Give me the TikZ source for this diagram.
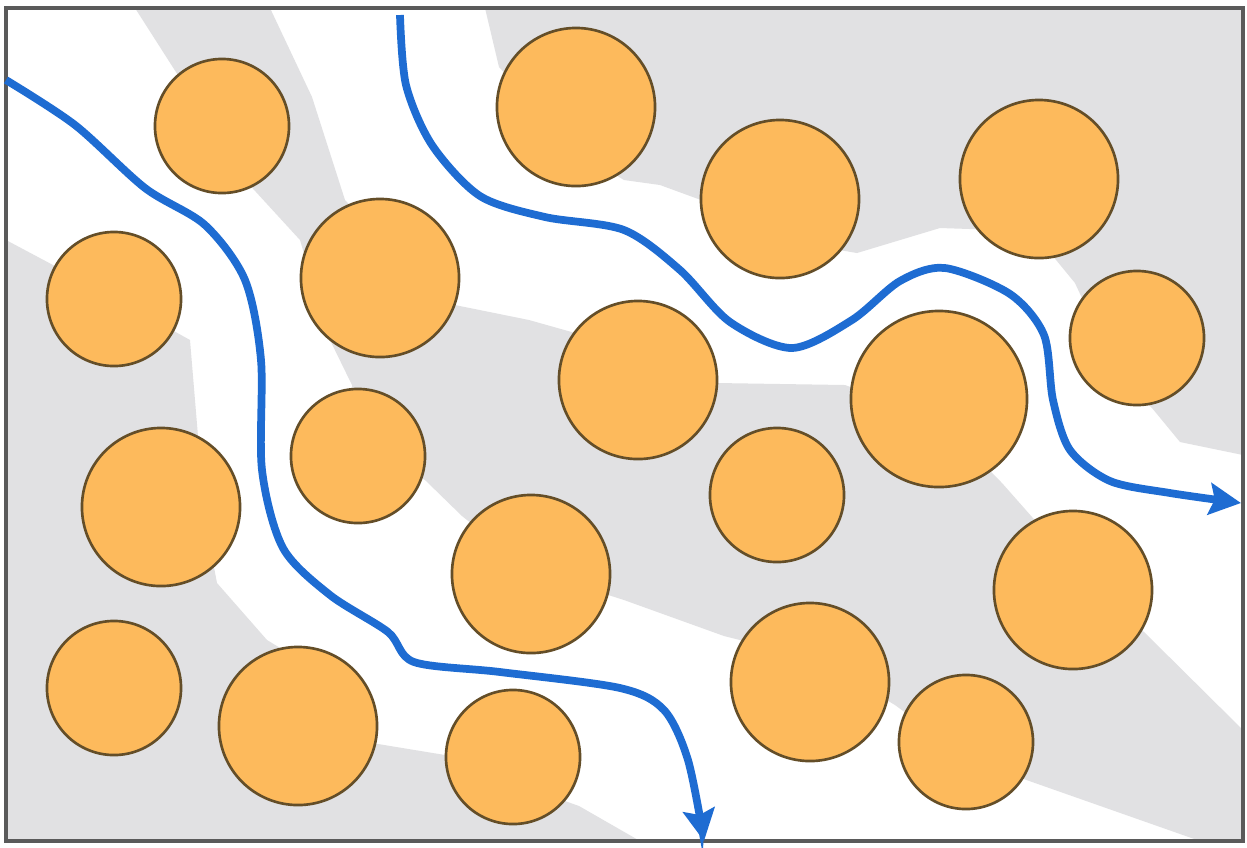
\documentclass[tikz,border=0pt]{standalone}
\usepackage{xcolor}
\usepackage{tikz}
\usetikzlibrary{arrows.meta}
\definecolor{grainfill}{RGB}{253,186,92}
\definecolor{grainline}{RGB}{100,78,40}
\definecolor{flowblue}{RGB}{30,108,210}
\definecolor{matrixgray}{RGB}{225,225,227}
\definecolor{framegray}{RGB}{90,90,90}

\begin{document}
\begin{tikzpicture}[
  x=0.01cm, y=-0.01cm,
  grain/.style={circle, draw=grainline, line width=0.75pt,
                fill=grainfill, inner sep=0pt},
  grainS/.style={grain, minimum size=1.34cm},
  grainM/.style={grain, minimum size=1.58cm},
  grainL/.style={grain, minimum size=1.76cm},
  flow/.style={draw=flowblue, line width=2.2pt,
               -{Stealth[length=9pt, width=9pt, inset=1.5pt]}},
  solid matrix/.style={fill=matrixgray, draw=none}
]
\useasboundingbox (0,0) rectangle (1247,847);
\fill[white] (0,0) rectangle (1247,847);

% gray matrix, the white is the open pore space
\begin{scope}
\clip (6,8) rectangle (1243,841);
\path[solid matrix] (6,240) -- (100,290) -- (190,340) -- (197,424)
  -- (205,520) -- (217,583) -- (267,640) -- (300,660) -- (372,743)
  -- (445,755) -- (520,785) -- (579,806) -- (640,841) -- (6,841) -- cycle;
\path[solid matrix] (485,8) -- (1243,8) -- (1243,455) -- (1180,442)
  -- (1152,408) -- (1120,380) -- (1075,283) -- (1052,255) -- (1000,230)
  -- (940,228) -- (857,253) -- (780,240) -- (701,200) -- (660,185)
  -- (624,180) -- (575,150) -- (499,67) -- cycle;
\path[solid matrix] (135,8) -- (270,8) -- (312,97) -- (345,200)
  -- (400,260) -- (445,303) -- (529,320) -- (600,340) -- (717,383)
  -- (845,385) -- (940,420) -- (1002,483) -- (1070,560) -- (1142,630)
  -- (1243,730) -- (1243,841) -- (1200,841) -- (1035,783) -- (970,760)
  -- (895,705) -- (820,660) -- (724,636) -- (624,600) -- (530,570)
  -- (462,516) -- (425,480) -- (360,440) -- (352,385) -- (330,340)
  -- (300,240) -- (245,180) -- cycle;
\end{scope}
\draw[framegray, line width=1pt] (6,8) rectangle (1243,841);

% grains
\node[grainS] (g1) at (222,126) {};
\node[grainM] (g2) at (576,107) {};
\node[grainM] (g3) at (780,199) {};
\node[grainM] (g4) at (1039,179) {};
\node[grainS] (g5) at (114,299) {};
\node[grainM] (g6) at (380,278) {};
\node[grainM] (g7) at (638,380) {};
\node[grainL] (g8) at (939,399) {};
\node[grainS] (g9) at (1137,338) {};
\node[grainM] (g10) at (161,507) {};
\node[grainS] (g11) at (358,456) {};
\node[grainS] (g12) at (777,495) {};
\node[grainM] (g13) at (531,574) {};
\node[grainM] (g14) at (1073,590) {};
\node[grainS] (g15) at (114,688) {};
\node[grainM] (g16) at (298,726) {};
\node[grainS] (g17) at (513,757) {};
\node[grainM] (g18) at (810,682) {};
\node[grainS] (g19) at (966,742) {};

% flow paths
\coordinate (in1) at (6,80);
\coordinate (out1) at (704,841);
\coordinate (in2) at (400,15);
\coordinate (out2) at (1241,503);
\draw[flow] plot[smooth, tension=0.5] coordinates {(in1) (75,125)
  (145,188) (205,225) (245,280) (261,360) (262,470) (283,548)
  (330,595) (388,632) (414,662) (500,672) (620,688) (664,710)
  (688,760) (out1)};
\draw[flow] plot[smooth, tension=0.5] coordinates {(in2) (406,85)
  (432,145) (480,196) (545,217) (624,230) (680,270) (730,322)
  (792,348) (852,320) (900,281) (945,268) (1010,294) (1044,335)
  (1053,400) (1070,450) (1110,481) (1170,493) (out2)};
\end{tikzpicture}
\end{document}
